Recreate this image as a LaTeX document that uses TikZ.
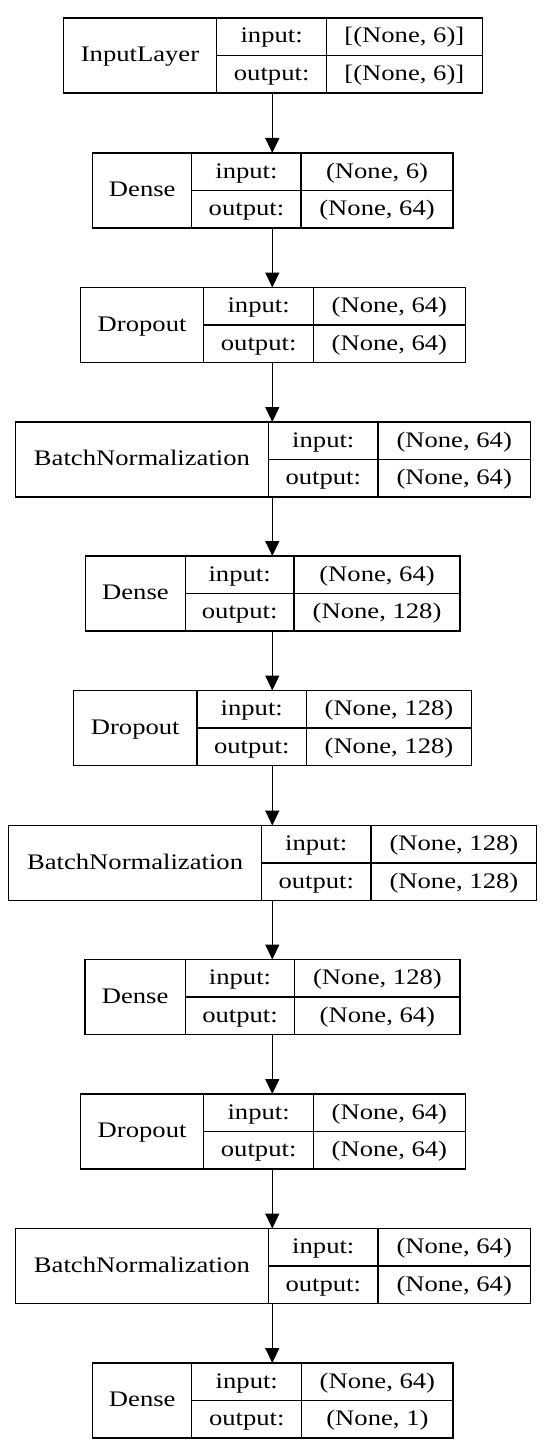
\documentclass[tikz,border=0pt]{standalone}
\usepackage{fontspec}
\setmainfont{Liberation Serif}[FakeStretch=1.2]
\usetikzlibrary{arrows.meta}
\begin{document}
\begin{tikzpicture}[x=1pt,y=-1pt,font=\fontsize{22.2}{26}\selectfont,
		cell/.style={draw,line width=1.3pt,inner sep=0pt,outer sep=0pt,anchor=north west,text height=15pt,text depth=2.5pt}]
		\tikzstyle{half}=[cell,minimum height=37.5pt]
		\tikzstyle{arrow}=[draw,line width=1.4pt,-{Triangle[width=14pt,length=15pt]}]
		\useasboundingbox (0,0) rectangle (550,1453);
		\coordinate (axis) at (272.3,0);
		\foreach \k/\ytop/\xa/\xb/\xc/\xd/\lname/\inp/\outp in {
			1/18/63.2/216.8/326.5/482.2/InputLayer/{[(None, 6)]}/{[(None, 6)]},
			2/153/92.7/191.8/301.1/453/Dense/{(None, 6)}/{(None, 64)},
			3/287.5/80.4/203.8/313.5/465.3/Dropout/{(None, 64)}/{(None, 64)},
			4/422/15.4/268.5/378.1/530.3/BatchNormalization/{(None, 64)}/{(None, 64)},
			5/556/85.7/185.2/294.1/460/Dense/{(None, 64)}/{(None, 128)},
			6/690.5/73.4/197.1/306.4/471.6/Dropout/{(None, 128)}/{(None, 128)},
			7/825.5/8.7/261.4/371.1/536.7/BatchNormalization/{(None, 128)}/{(None, 128)},
			8/959.5/85/185.2/294.8/460/Dense/{(None, 128)}/{(None, 64)},
			9/1094/80.4/203.8/313.5/465.3/Dropout/{(None, 64)}/{(None, 64)},
			10/1228.5/15.4/268.5/378.1/530.3/BatchNormalization/{(None, 64)}/{(None, 64)},
			11/1363/92.7/191.8/301.8/453/Dense/{(None, 64)}/{(None, 1)}}
		{
			\node[cell,minimum width={(\xb-\xa)*1pt},minimum height=75pt] (l\k) at (\xa,\ytop) {\lname};
			\node[half,minimum width={(\xc-\xb)*1pt}] (i\k) at (\xb,\ytop) {input:};
			\node[half,minimum width={(\xd-\xc)*1pt}] (iv\k) at (\xc,\ytop) {\inp};
			\node[half,minimum width={(\xc-\xb)*1pt}] (o\k) at (\xb,\ytop+37.5) {output:};
			\node[half,minimum width={(\xd-\xc)*1pt}] (ov\k) at (\xc,\ytop+37.5) {\outp};
		}
		\foreach \k [evaluate={\n=int(\k+1);}] in {1,...,10}
			\path[arrow] (o\k.south -| axis) -- (i\n.north -| axis);
		
		\end{tikzpicture}
\end{document}
